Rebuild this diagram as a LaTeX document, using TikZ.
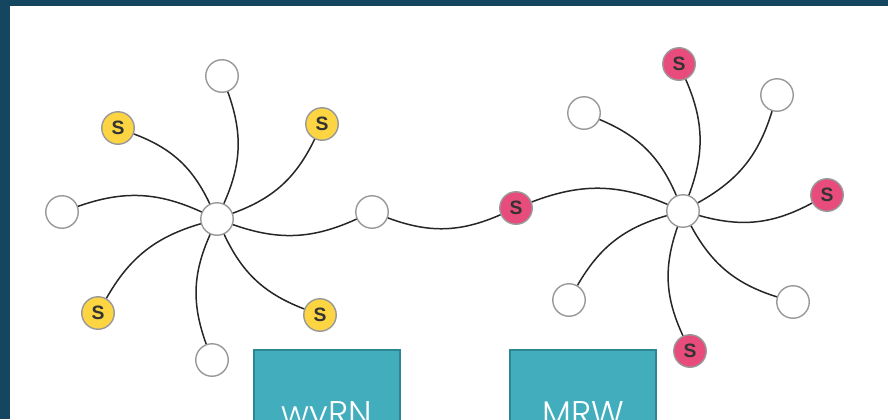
\documentclass[tikz,border=0pt]{standalone}
\usepackage{fontspec}
\setsansfont{Liberation Sans}
\newfontfamily\boxfont{Poppins Light}
\definecolor{frame}{HTML}{144660}
\definecolor{ssyellow}{HTML}{FDD442}
\definecolor{sspink}{HTML}{E84C7D}
\definecolor{boxfill}{HTML}{42AEBD}
\definecolor{boxline}{HTML}{2A8793}

\begin{document}
\begin{tikzpicture}[x=0.02cm, y=-0.02cm,
  peer/.style={circle, draw=black!40, fill=white, line width=0.8pt, minimum size=0.65cm, inner sep=0pt},
  seedY/.style={peer, fill=ssyellow, font=\sffamily\bfseries\fontsize{11}{13}\selectfont, text=black!80},
  seedP/.style={seedY, fill=sspink},
  link/.style={draw=black!85, line width=0.85pt, bend right=22},
  panel/.style={rectangle, draw=boxline, fill=boxfill, line width=1pt}]
\useasboundingbox (0,0) rectangle (888,419);
\clip (0,0) rectangle (888,419);
\fill [frame] (0,0) rectangle (888,419);
\fill [white] (10,6) rectangle (888,419);

\node (A) at (217,219) [peer]{};
\node (A-1) at (222,76) [peer]{};
\node (A-2) at (322,124) [seedY]{S};
\node (A-3) at (372,212) [peer]{};
\node (A-4) at (320,315) [seedY]{S};
\node (A-5) at (212,360) [peer]{};
\node (A-6) at (98,313) [seedY]{S};
\node (A-7) at (62,212) [peer]{};
\node (A-8) at (118,128) [seedY]{S};

\node (B) at (683,211) [peer]{};
\node (B-1) at (679,64) [seedP]{S};
\node (B-2) at (777,95) [peer]{};
\node (B-3) at (827,195) [seedP]{S};
\node (B-4) at (793,302) [peer]{};
\node (B-5) at (690,351) [seedP]{S};
\node (B-6) at (569,300) [peer]{};
\node (B-7) at (516,208) [seedP]{S};
\node (B-8) at (584,113) [peer]{};

\draw [link] (A) to (A-1);
\draw [link] (A) to (A-2);
\draw [link] (A) to (A-3);
\draw [link] (A) to (A-4);
\draw [link] (A) to (A-5);
\draw [link] (A) to (A-6);
\draw [link] (A) to (A-7);
\draw [link] (A) to (A-8);

\draw [link] (B) to (B-1);
\draw [link] (B) to (B-2);
\draw [link] (B) to (B-3);
\draw [link] (B) to (B-4);
\draw [link] (B) to (B-5);
\draw [link] (B) to (B-6);
\draw [link] (B) to (B-7);
\draw [link] (B) to (B-8);

\draw [link] (A-3) to (B-7);

% panels, cut by the lower edge
\fill [boxfill] (254,350) rectangle (400,430);
\draw [boxline, line width=1pt] (254,430) -- (254,350) -- (400,350) -- (400,430);
\fill [boxfill] (510,350) rectangle (656,430);
\draw [boxline, line width=1pt] (510,430) -- (510,350) -- (656,350) -- (656,430);
\node (C-1) at (327,425) [anchor=base, text=white, font=\boxfont\fontsize{19.5}{22}\selectfont]{wyRN};
\node (C-2) at (583,425) [anchor=base, text=white, font=\boxfont\fontsize{19.5}{22}\selectfont]{MRW};

\end{tikzpicture}
\end{document}
